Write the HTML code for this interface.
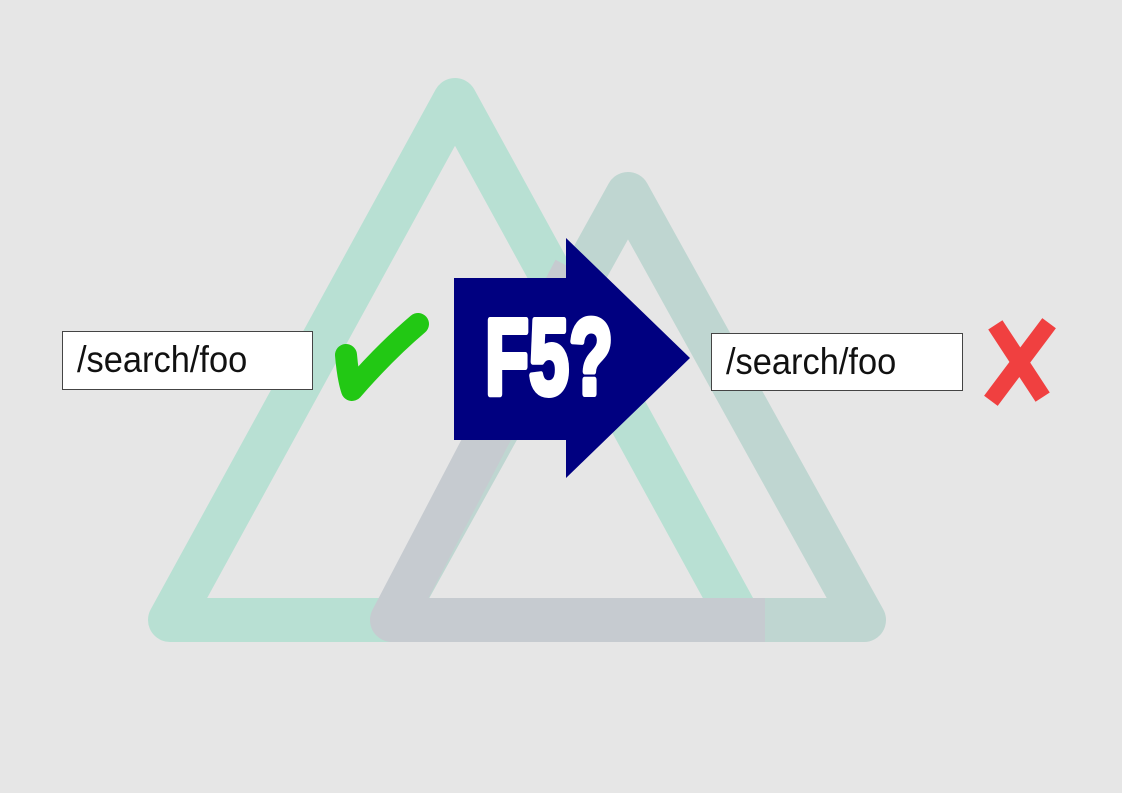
<!DOCTYPE html>
<html><head><meta charset="utf-8"><style>
body{margin:0;background:#e6e6e6;width:1122px;height:793px;overflow:hidden;position:relative;font-family:"Liberation Sans",sans-serif}
.box{position:absolute;background:#fff;border:1px solid #444;box-sizing:border-box;font-size:37px;color:#111;line-height:56px;padding-left:14px;white-space:nowrap}
.box span{display:inline-block;transform:scaleX(0.93);transform-origin:left center}
</style></head><body>
<svg width="1122" height="793" style="position:absolute;left:0;top:0">
<polygon points="628,194 864,620 392,620" fill="none" stroke="#bfd6d1" stroke-width="44" stroke-linejoin="round"/>
<polygon points="455,100 740,620 170,620" fill="none" stroke="#b8e0d3" stroke-width="44" stroke-linejoin="round"/>
<polyline points="575,270 392,620 765,620" fill="none" stroke="#c6cbd0" stroke-width="44" stroke-linejoin="round"/>
<polygon points="454,278 566,278 566,238 690,358 566,478 566,440 454,440" fill="#000080"/>
<text x="485" y="394" fill="#fff" stroke="#fff" stroke-width="6" stroke-linejoin="round" font-family="Liberation Sans,sans-serif" font-weight="bold" font-size="108" textLength="128" lengthAdjust="spacingAndGlyphs">F5?</text>
<path d="M346,355 Q348,378 352,390 Q385,352 418,324" fill="none" stroke="#22c814" stroke-width="22" stroke-linecap="round" stroke-linejoin="round"/>
<path d="M1000,332 L1038,390 M1044,330 L996,394" stroke="#f04040" stroke-width="17" stroke-linecap="square"/>
</svg>
<div class="box" style="left:62px;top:331px;width:251px;height:59px"><span>/search/foo</span></div>
<div class="box" style="left:711px;top:333px;width:252px;height:58px"><span>/search/foo</span></div>
</body></html>
